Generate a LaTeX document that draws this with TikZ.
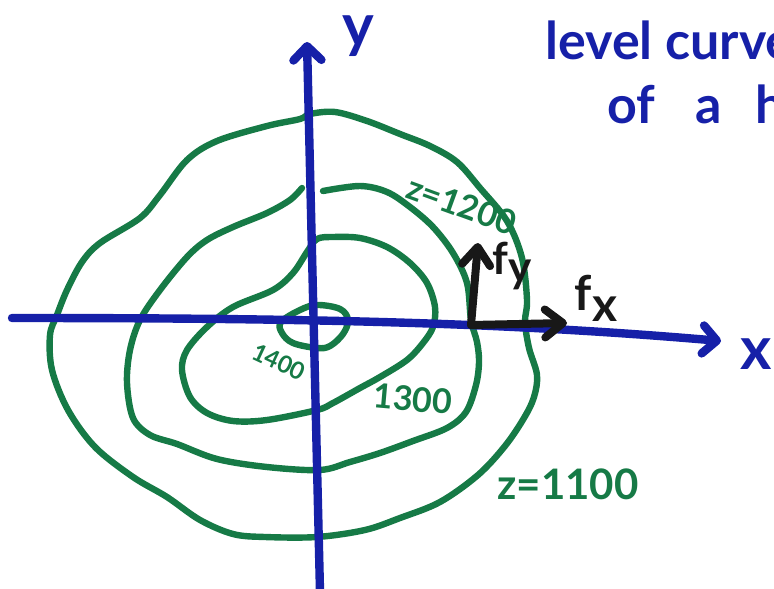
\documentclass[tikz,border=0pt]{standalone}
\usepackage{fontspec}
\setmainfont{Lato}
\usetikzlibrary{arrows.meta}
\definecolor{pen}{RGB}{22,32,168}
\definecolor{cgreen}{RGB}{22,122,70}
\definecolor{ink}{RGB}{24,24,24}
\tikzset{
  axis/.style={draw=pen, line width=4.2pt, line cap=round, line join=round},
  axtip/.style={-{Straight Barb[length=7pt, width=14pt, round]}},
  contour/.style={draw=cgreen, line width=3.2pt, line cap=round, line join=round},
  vec/.style={draw=ink, line width=4pt, line cap=round, line join=round,
    -{Straight Barb[length=9pt, width=14pt, round]}},
  lab/.style={text=cgreen, font=\bfseries, inner sep=0pt},
  note/.style={text=pen, font=\bfseries\fontsize{26}{30}\selectfont, inner sep=0pt, anchor=base west},
}
\begin{document}
\begin{tikzpicture}[x=0.5pt, y=-0.5pt]
\useasboundingbox (0,0) rectangle (774,588);
\clip (0,0) rectangle (774,588);

% contours
\draw[contour] plot[smooth cycle, tension=0.55] coordinates {
(310,114) (335,112) (367,121) (400,134) (430,146) (457,162) (480,188) (507,221)
(522,258) (527,300) (525,322) (529,348) (537,375) (534,397) (524,418) (505,446)
(478,475) (440,502) (400,518) (365,530) (317,537) (265,537) (233,534) (200,520)
(167,497) (133,477) (95,447) (68,410) (52,370) (50,335) (57,315) (67,290)
(82,262) (100,243) (140,218) (160,195) (187,160) (217,141) (267,126) (300,119)};

\draw[contour] plot[smooth, tension=0.55] coordinates {
(323,191) (360,186) (387,192) (410,207) (433,227) (453,253) (467,283) (471,320)
(477,342) (479,362) (476,385) (466,412) (447,428) (413,441) (380,453) (350,462)
(320,470) (267,467) (217,459) (177,444) (150,435) (133,418) (127,383) (130,350)
(140,320) (160,290) (187,257) (207,240) (233,227) (267,213) (290,200) (302,188)};

\draw[contour] plot[smooth cycle, tension=0.55] coordinates {
(317,239) (333,237) (360,238) (387,247) (410,263) (427,283) (435,307) (433,327)
(423,343) (407,360) (380,377) (360,388) (333,403) (317,410) (267,420) (233,421)
(207,413) (190,397) (182,370) (187,350) (207,327) (233,307) (273,290) (293,273)
(307,252)};

\draw[contour] plot[smooth cycle, tension=0.6] coordinates {
(300,310) (317,305) (340,309) (348,320) (343,334) (330,346) (317,348) (293,343)
(282,333) (281,322)};

% axes
\coordinate (xs) at (12,318);
\coordinate (xe) at (721,341);
\coordinate (ys) at (320,592);
\coordinate (ye) at (307,42);
\draw[axis, axtip] (xs) .. controls (300,318) and (500,322) .. (xe);
\draw[axis, axtip] (ys) -- (ye);

\node[text=pen, font=\bfseries\fontsize{30}{30}\selectfont, inner sep=0pt] (ylab) at (358,36) {y};
\node[text=pen, font=\bfseries\fontsize{30}{30}\selectfont, inner sep=0pt] (xlab) at (756,354) {x};

% gradient components
\coordinate (o) at (471,325);
\coordinate (fyt) at (478,243);
\coordinate (fxt) at (567,323);
\draw[vec] (o) -- (fyt);
\draw[vec] (o) -- (fxt);
\node[text=ink, font=\bfseries\fontsize{22}{22}\selectfont, inner sep=0pt] (fy) at (512,266) {f\raisebox{-0.35ex}{y}};
\node[text=ink, font=\bfseries\fontsize{24}{24}\selectfont, inner sep=0pt] (fx) at (596,298) {f\raisebox{-0.45ex}{x}};

% contour labels
\node[lab, font=\bfseries\fontsize{17}{17}\selectfont, rotate=-20] (l1200) at (462,205) {z=1200};
\node[lab, font=\bfseries\fontsize{12}{12}\selectfont, rotate=-25] (l1400) at (279,362) {1400};
\node[lab, font=\bfseries\fontsize{17}{17}\selectfont, rotate=-5] (l1300) at (413,399) {1300};
\node[lab, font=\bfseries\fontsize{21}{21}\selectfont] (l1100) at (568,484) {z=1100};

% title
\node[note] (t1) at (545,60) {level curve};
\node[note] (t2) at (607,124) {of\hspace{20pt}a\hspace{17pt}h};
\end{tikzpicture}
\end{document}
